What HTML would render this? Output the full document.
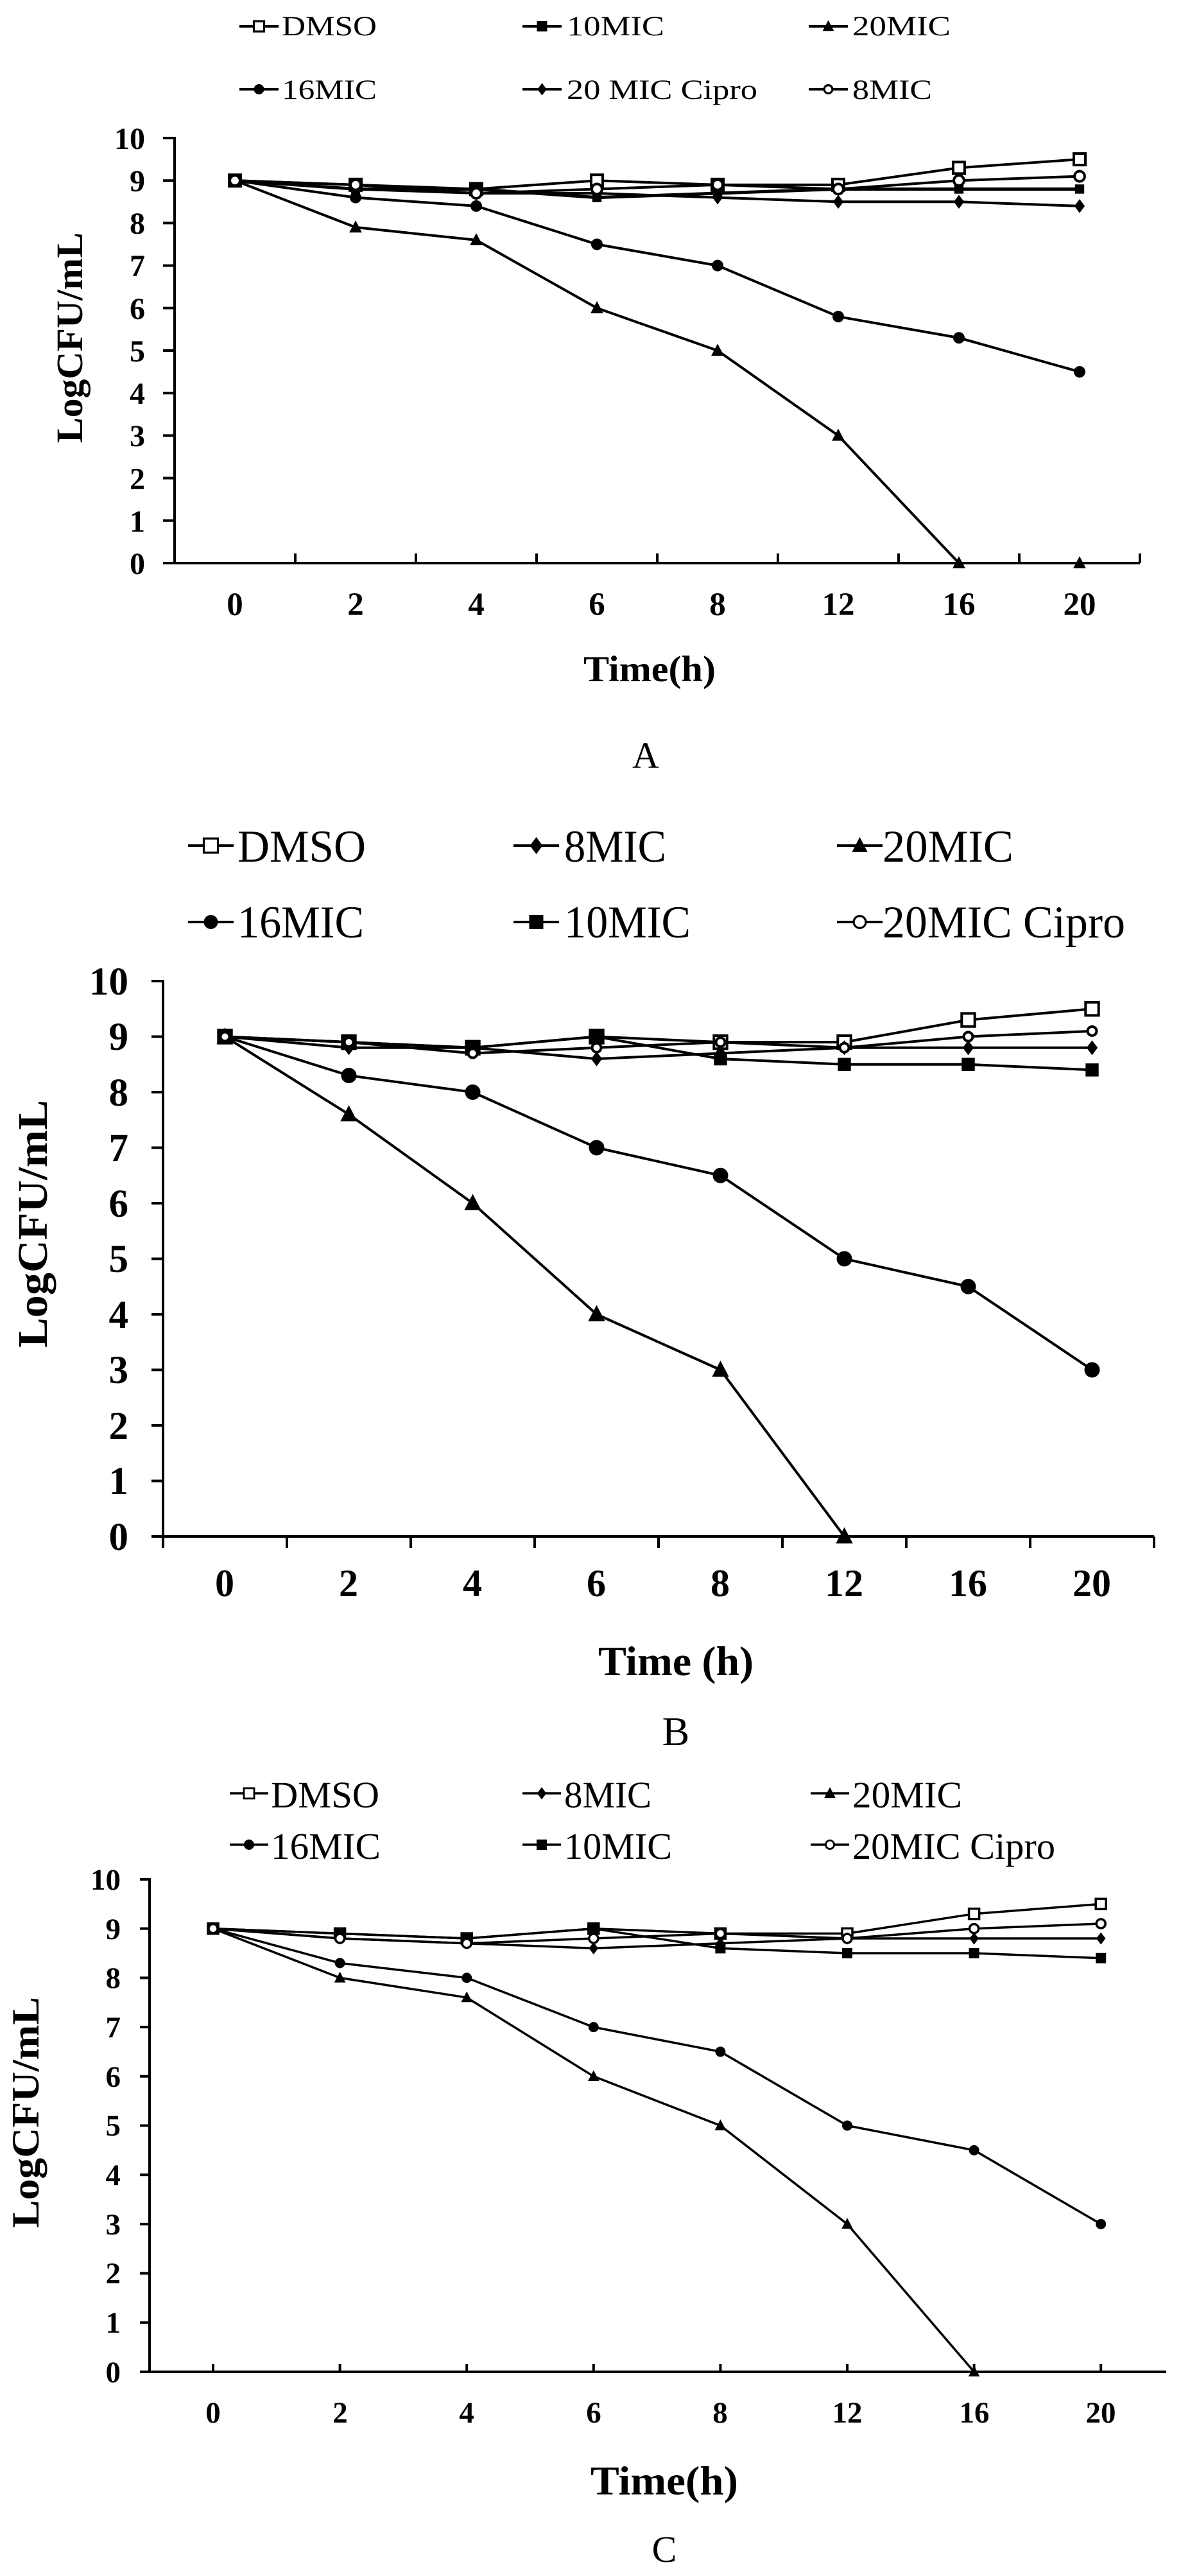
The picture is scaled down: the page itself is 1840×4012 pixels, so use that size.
<!DOCTYPE html>
<html><head><meta charset="utf-8">
<style>
html,body{margin:0;padding:0;background:#fff;}
svg{display:block;}
text{font-family:"Liberation Serif","Times New Roman",serif;fill:#000;}
.b{font-weight:bold;}
</style></head>
<body>
<svg id="s" width="1840" height="4012" viewBox="0 0 1840 4012" xmlns="http://www.w3.org/2000/svg">
<rect width="1840" height="4012" fill="#fff"/>

<!-- ===== Chart A ===== -->
<g font-size="43">
<text x="439" y="55" textLength="148" lengthAdjust="spacingAndGlyphs">DMSO</text>
<text x="883" y="55" textLength="152" lengthAdjust="spacingAndGlyphs">10MIC</text>
<text x="1328" y="55" textLength="153" lengthAdjust="spacingAndGlyphs">20MIC</text>
<text x="439" y="154" textLength="148" lengthAdjust="spacingAndGlyphs">16MIC</text>
<text x="883" y="154" textLength="297" lengthAdjust="spacingAndGlyphs">20 MIC Cipro</text>
<text x="1328" y="154" textLength="124" lengthAdjust="spacingAndGlyphs">8MIC</text>
</g>
<g class="b" font-size="48" text-anchor="end">
<text x="226" y="232" class="b">10</text><text x="226" y="298" class="b">9</text><text x="226" y="364" class="b">8</text>
<text x="226" y="430" class="b">7</text><text x="226" y="497" class="b">6</text><text x="226" y="563" class="b">5</text>
<text x="226" y="629" class="b">4</text><text x="226" y="695" class="b">3</text><text x="226" y="762" class="b">2</text>
<text x="226" y="828" class="b">1</text><text x="226" y="894" class="b">0</text>
</g>
<g class="b" font-size="51" text-anchor="middle">
<text x="366" y="958" class="b">0</text><text x="554" y="958" class="b">2</text><text x="742" y="958" class="b">4</text>
<text x="930" y="958" class="b">6</text><text x="1118" y="958" class="b">8</text><text x="1306" y="958" class="b">12</text>
<text x="1494" y="958" class="b">16</text><text x="1682" y="958" class="b">20</text>
</g>
<text x="1012" y="1061" font-size="57" class="b" text-anchor="middle" textLength="206" lengthAdjust="spacingAndGlyphs">Time(h)</text>
<text x="1006" y="1196" font-size="58" text-anchor="middle">A</text>
<text transform="translate(128,526) rotate(-90)" font-size="58" class="b" text-anchor="middle" textLength="328" lengthAdjust="spacingAndGlyphs">LogCFU/mL</text>

<!-- ===== Chart B ===== -->
<g font-size="71">
<text x="370" y="1342" textLength="200" lengthAdjust="spacingAndGlyphs">DMSO</text>
<text x="879" y="1342" textLength="159" lengthAdjust="spacingAndGlyphs">8MIC</text>
<text x="1375" y="1342" textLength="204" lengthAdjust="spacingAndGlyphs">20MIC</text>
<text x="370" y="1460" textLength="197" lengthAdjust="spacingAndGlyphs">16MIC</text>
<text x="879" y="1460" textLength="197" lengthAdjust="spacingAndGlyphs">10MIC</text>
<text x="1375" y="1460" textLength="378" lengthAdjust="spacingAndGlyphs">20MIC Cipro</text>
</g>
<g class="b" font-size="61" text-anchor="end">
<text x="200" y="1549" class="b">10</text><text x="200" y="1635" class="b">9</text><text x="200" y="1722" class="b">8</text>
<text x="200" y="1808" class="b">7</text><text x="200" y="1895" class="b">6</text><text x="200" y="1981" class="b">5</text>
<text x="200" y="2068" class="b">4</text><text x="200" y="2154" class="b">3</text><text x="200" y="2241" class="b">2</text>
<text x="200" y="2327" class="b">1</text><text x="200" y="2414" class="b">0</text>
</g>
<g class="b" font-size="60" text-anchor="middle">
<text x="350" y="2486" class="b">0</text><text x="543" y="2486" class="b">2</text><text x="736" y="2486" class="b">4</text>
<text x="929" y="2486" class="b">6</text><text x="1122" y="2486" class="b">8</text><text x="1315" y="2486" class="b">12</text>
<text x="1508" y="2486" class="b">16</text><text x="1701" y="2486" class="b">20</text>
</g>
<text x="1053" y="2609" font-size="65" class="b" text-anchor="middle" textLength="242" lengthAdjust="spacingAndGlyphs">Time (h)</text>
<text x="1053" y="2718" font-size="64" text-anchor="middle">B</text>
<text transform="translate(73,1906) rotate(-90)" font-size="66" class="b" text-anchor="middle" textLength="386" lengthAdjust="spacingAndGlyphs">LogCFU/mL</text>

<!-- ===== Chart C ===== -->
<g font-size="58">
<text x="422" y="2815" textLength="169" lengthAdjust="spacingAndGlyphs">DMSO</text>
<text x="879" y="2815" textLength="136" lengthAdjust="spacingAndGlyphs">8MIC</text>
<text x="1328" y="2815" textLength="171" lengthAdjust="spacingAndGlyphs">20MIC</text>
<text x="422" y="2895" textLength="171" lengthAdjust="spacingAndGlyphs">16MIC</text>
<text x="879" y="2895" textLength="168" lengthAdjust="spacingAndGlyphs">10MIC</text>
<text x="1328" y="2895" textLength="316" lengthAdjust="spacingAndGlyphs">20MIC Cipro</text>
</g>
<g class="b" font-size="47" text-anchor="end">
<text x="188" y="2943" class="b">10</text><text x="188" y="3020" class="b">9</text><text x="188" y="3096" class="b">8</text>
<text x="188" y="3173" class="b">7</text><text x="188" y="3250" class="b">6</text><text x="188" y="3326" class="b">5</text>
<text x="188" y="3403" class="b">4</text><text x="188" y="3480" class="b">3</text><text x="188" y="3556" class="b">2</text>
<text x="188" y="3633" class="b">1</text><text x="188" y="3710" class="b">0</text>
</g>
<g class="b" font-size="47" text-anchor="middle">
<text x="332" y="3773" class="b">0</text><text x="530" y="3773" class="b">2</text><text x="727" y="3773" class="b">4</text>
<text x="925" y="3773" class="b">6</text><text x="1122" y="3773" class="b">8</text><text x="1320" y="3773" class="b">12</text>
<text x="1518" y="3773" class="b">16</text><text x="1715" y="3773" class="b">20</text>
</g>
<text x="1035" y="3885" font-size="64" class="b" text-anchor="middle" textLength="230" lengthAdjust="spacingAndGlyphs">Time(h)</text>
<text x="1035" y="3990" font-size="58" text-anchor="middle">C</text>
<text transform="translate(60,3290) rotate(-90)" font-size="60" class="b" text-anchor="middle" textLength="360" lengthAdjust="spacingAndGlyphs">LogCFU/mL</text>

<g id="draw"></g>
</svg>
<script>
(function(){
var NS="http://www.w3.org/2000/svg",g=document.getElementById("draw");
function el(t,a){var e=document.createElementNS(NS,t);for(var k in a)e.setAttribute(k,a[k]);g.appendChild(e);return e;}
function marker(type,x,y,s,sw){
 if(type=="osq")el("rect",{x:x-s/2,y:y-s/2,width:s,height:s,fill:"#fff",stroke:"#000","stroke-width":sw});
 else if(type=="fsq")el("rect",{x:x-s/2,y:y-s/2,width:s,height:s,fill:"#000"});
 else if(type=="tri")el("polygon",{points:(x)+","+(y-s*0.6)+" "+(x-s*0.55)+","+(y+s*0.45)+" "+(x+s*0.55)+","+(y+s*0.45),fill:"#000"});
 else if(type=="fci")el("circle",{cx:x,cy:y,r:s/2,fill:"#000"});
 else if(type=="oci")el("circle",{cx:x,cy:y,r:s/2-sw/2,fill:"#fff",stroke:"#000","stroke-width":sw});
 else if(type=="dia")el("polygon",{points:x+","+(y-s*0.6)+" "+(x+s*0.45)+","+y+" "+x+","+(y+s*0.6)+" "+(x-s*0.45)+","+y,fill:"#000"});
}
function chart(c){
 // axes
 el("line",{x1:c.ax,y1:c.y10-2,x2:c.ax,y2:c.y0+c.vext,stroke:"#000","stroke-width":c.aw});
 el("line",{x1:c.ax-c.tl,y1:c.y0,x2:c.xend,y2:c.y0,stroke:"#000","stroke-width":c.aw});
 var u=(c.y0-c.y10)/10;
 for(var i=0;i<=10;i++){var y=c.y0-i*u;el("line",{x1:c.ax-c.tl,y1:y,x2:c.ax,y2:y,stroke:"#000","stroke-width":c.aw});}
 for(var j=0;j<c.xt.length;j++){var x=c.xt[j];el("line",{x1:x,y1:c.y0,x2:x,y2:c.y0+c.xtd,stroke:"#000","stroke-width":c.aw});}
 c.series.forEach(function(s){
  var pts=[];for(var k=0;k<s.d.length;k++)pts.push((c.cx0+k*c.cw)+","+(c.y0-s.d[k]*u));
  el("polyline",{points:pts.join(" "),fill:"none",stroke:"#000","stroke-width":s.w||c.lw,"stroke-linejoin":"round"});
 });
 c.series.forEach(function(s){
  for(var k=0;k<s.d.length;k++)marker(s.m,c.cx0+k*c.cw,c.y0-s.d[k]*u,c.ms*(s.sc||1),c.msw);
 });
 // legend
 c.leg.forEach(function(L){
  el("line",{x1:L[0],y1:L[1],x2:L[0]+c.ll,y2:L[1],stroke:"#000","stroke-width":c.lw});
  marker(L[2],L[0]+c.ll/2,L[1],c.lms,c.msw*0.8);
 });
}
// Chart A
var xtA=[];for(var i=1;i<=8;i++)xtA.push(272+188*i);
chart({ax:272,y10:215,y0:877,xend:1776,aw:4,tl:18,vext:0,xt:xtA,xtd:-15,cx0:366,cw:188,lw:4,ms:18,msw:4,ll:61,lms:16,
 series:[
  {m:"osq",d:[9,8.9,8.8,9,8.9,8.9,9.3,9.5]},
  {m:"fsq",d:[9,8.8,8.8,8.6,8.7,8.8,8.8,8.8],w:5,sc:0.8},
  {m:"tri",d:[9,7.9,7.6,6,5,3,0,0]},
  {m:"fci",d:[9,8.6,8.4,7.5,7.0,5.8,5.3,4.5]},
  {m:"dia",d:[9,8.8,8.7,8.7,8.6,8.5,8.5,8.4]},
  {m:"oci",d:[9,8.9,8.7,8.8,8.9,8.8,9.0,9.1],sc:1.1}
 ],
 leg:[[373,41,"osq"],[814,41,"fsq"],[1260,41,"tri"],[373,139,"fci"],[814,139,"dia"],[1260,139,"oci"]]});
// Chart B
var xtB=[];for(var i=1;i<=8;i++)xtB.push(254+193*i);
chart({ax:254,y10:1528,y0:2393,xend:1798,aw:4,tl:18,vext:18,xt:xtB,xtd:18,cx0:350.5,cw:193,lw:4,ms:24,msw:4,ll:71,lms:22,
 series:[
  {m:"osq",d:[9,8.9,8.8,9,8.9,8.9,9.3,9.5],sc:0.85},
  {m:"dia",d:[9,8.8,8.8,8.6,8.7,8.8,8.8,8.8],sc:0.8},
  {m:"tri",d:[9,7.6,6,4,3,0]},
  {m:"fci",d:[9,8.3,8,7,6.5,5,4.5,3]},
  {m:"fsq",d:[9,8.9,8.8,9.0,8.6,8.5,8.5,8.4],sc:0.85},
  {m:"oci",d:[9,8.9,8.7,8.8,8.9,8.8,9.0,9.1],sc:0.75}
 ],
 leg:[[293,1317,"osq"],[800,1317,"dia"],[1304,1317,"tri"],[293,1436,"fci"],[800,1436,"fsq"],[1304,1436,"oci"]]});
// Chart C
var xtC=[];for(var i=0;i<8;i++)xtC.push(332+197.6*i);
chart({ax:233,y10:2927,y0:3694,xend:1817,aw:4,tl:15,vext:0,xt:xtC,xtd:-12,cx0:332,cw:197.6,lw:3.5,ms:16,msw:3.5,ll:60,lms:16,
 series:[
  {m:"osq",d:[9,8.9,8.8,9,8.9,8.9,9.3,9.5]},
  {m:"dia",d:[9,8.8,8.7,8.6,8.7,8.8,8.8,8.8]},
  {m:"tri",d:[9,8,7.6,6,5,3,0]},
  {m:"fci",d:[9,8.3,8,7,6.5,5,4.5,3]},
  {m:"fsq",d:[9,8.9,8.8,9,8.6,8.5,8.5,8.4]},
  {m:"oci",d:[9,8.8,8.7,8.8,8.9,8.8,9.0,9.1],sc:1.1}
 ],
 leg:[[358,2793,"osq"],[814,2793,"dia"],[1263,2793,"tri"],[358,2873,"fci"],[814,2873,"fsq"],[1263,2873,"oci"]]});
})();
</script>
</body></html>
